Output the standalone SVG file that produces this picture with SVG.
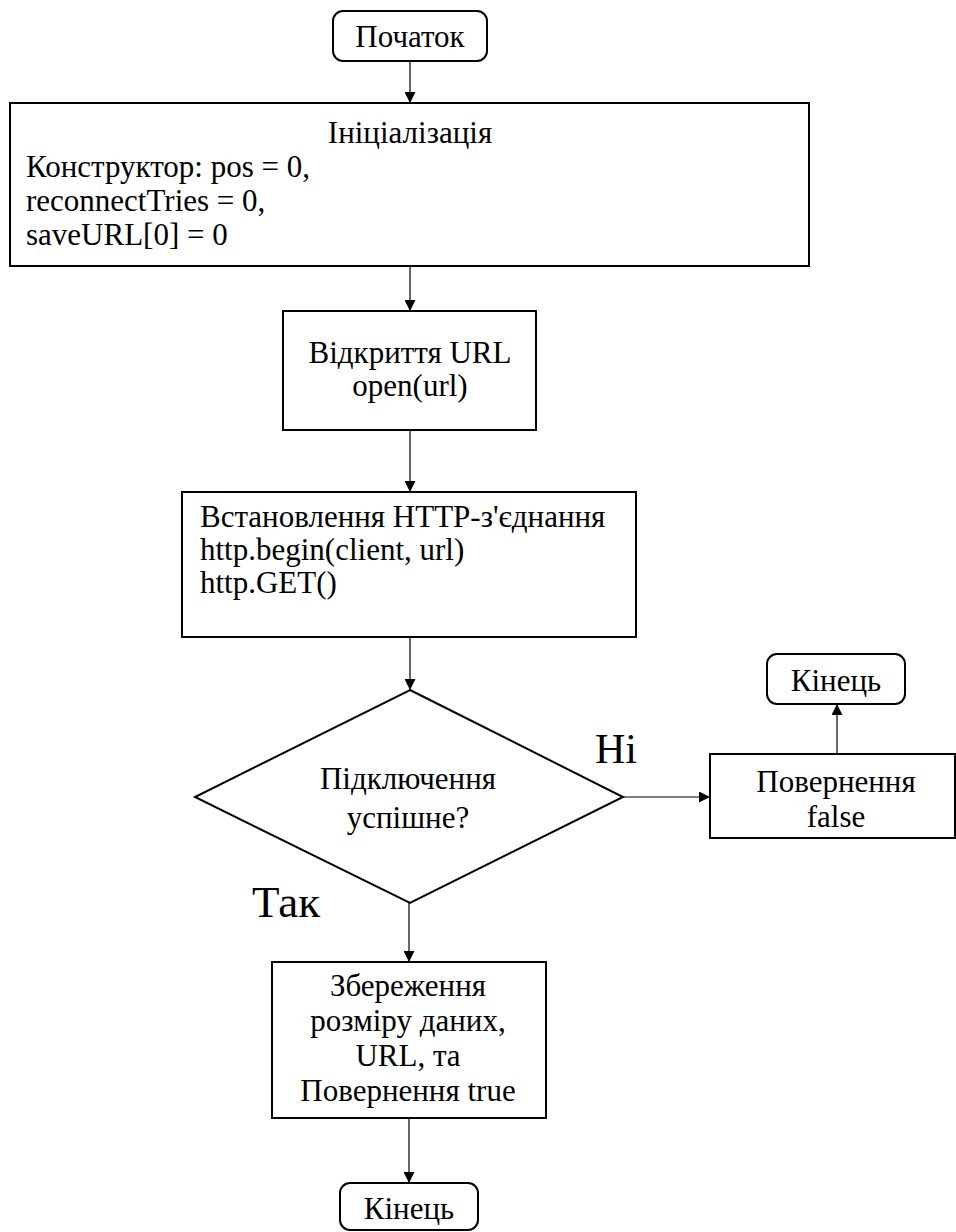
<svg xmlns="http://www.w3.org/2000/svg" width="956" height="1232" viewBox="0 0 956 1232">
  <style>
    .box { fill: #ffffff; stroke: #000000; stroke-width: 2; }
    .t { font-family: 'Liberation Serif', 'DejaVu Serif', serif; font-size: 31px; fill: #000000; }
    .c { text-anchor: middle; }
    .big { font-family: 'Liberation Serif', 'DejaVu Serif', serif; fill: #000000; }
    .line { stroke: #000000; stroke-width: 1.2; fill: none; marker-end: url(#arrow); }
  </style>
  <defs>
    <marker id="arrow" viewBox="0 0 10 10" refX="10" refY="5" markerWidth="11" markerHeight="11" markerUnits="userSpaceOnUse" orient="auto">
      <path d="M0,0 L10,5 L0,10 Z" fill="#000000"/>
    </marker>
  </defs>
  <rect width="956" height="1232" fill="#ffffff"/>

  <!-- flow arrows -->
  <g id="connectors">
    <line class="line" x1="410" y1="61" x2="410" y2="103"/>
    <line class="line" x1="410" y1="266" x2="410" y2="311"/>
    <line class="line" x1="410" y1="430" x2="410" y2="492"/>
    <line class="line" x1="410" y1="637" x2="410" y2="690"/>
    <line class="line" x1="623" y1="797" x2="710" y2="797"/>
    <line class="line" x1="837" y1="754" x2="837" y2="704"/>
    <line class="line" x1="409" y1="903" x2="409" y2="962"/>
    <line class="line" x1="409" y1="1118" x2="409" y2="1183"/>
  </g>

  <g id="start">
    <rect class="box" x="333" y="11" width="154" height="50" rx="10"/>
    <text class="t c" x="410" y="47">Початок</text>
  </g>

  <g id="init">
    <rect class="box" x="10" y="103" width="799" height="163"/>
    <text class="t c" x="410" y="143">Ініціалізація</text>
    <text class="t" x="26" y="177">Конструктор:  pos = 0,</text>
    <text class="t" x="26" y="211">reconnectTries  = 0,</text>
    <text class="t" x="26" y="245">saveURL[0]  = 0</text>
  </g>

  <g id="open-url">
    <rect class="box" x="283" y="311" width="253" height="119"/>
    <text class="t c" x="410" y="363">Відкриття URL</text>
    <text class="t c" x="410" y="396">open(url)</text>
  </g>

  <g id="http-connect">
    <rect class="box" x="182" y="492" width="454" height="145"/>
    <text class="t" x="200" y="527">Встановлення HTTP-з'єднання</text>
    <text class="t" x="200" y="560">http.begin(client,  url)</text>
    <text class="t" x="200" y="593">http.GET()</text>
  </g>

  <g id="check">
    <polygon class="box" points="410,690 623,797 410,903 195,797"/>
    <text class="t c" x="408" y="789">Підключення</text>
    <text class="t c" x="408" y="828">успішне?</text>
  </g>

  <g id="label-no">
    <text class="big" font-size="42" x="595" y="763">Ні</text>
  </g>
  <g id="label-yes">
    <text class="big" font-size="45" x="252" y="917">Так</text>
  </g>

  <g id="return-false">
    <rect class="box" x="710" y="754" width="245" height="84"/>
    <text class="t c" x="836" y="792">Повернення</text>
    <text class="t c" x="836" y="827">false</text>
  </g>

  <g id="end-false">
    <rect class="box" x="767" y="654" width="138" height="50" rx="10"/>
    <text class="t c" x="836" y="691">Кінець</text>
  </g>

  <g id="save-result">
    <rect class="box" x="272" y="962" width="274" height="156"/>
    <text class="t c" x="408" y="996">Збереження</text>
    <text class="t c" x="408" y="1031">розміру  даних,</text>
    <text class="t c" x="408" y="1066">URL, та</text>
    <text class="t c" x="408" y="1101">Повернення true</text>
  </g>

  <g id="end-true">
    <rect class="box" x="340" y="1183" width="138" height="47" rx="10"/>
    <text class="t c" x="409" y="1219">Кінець</text>
  </g>
</svg>
